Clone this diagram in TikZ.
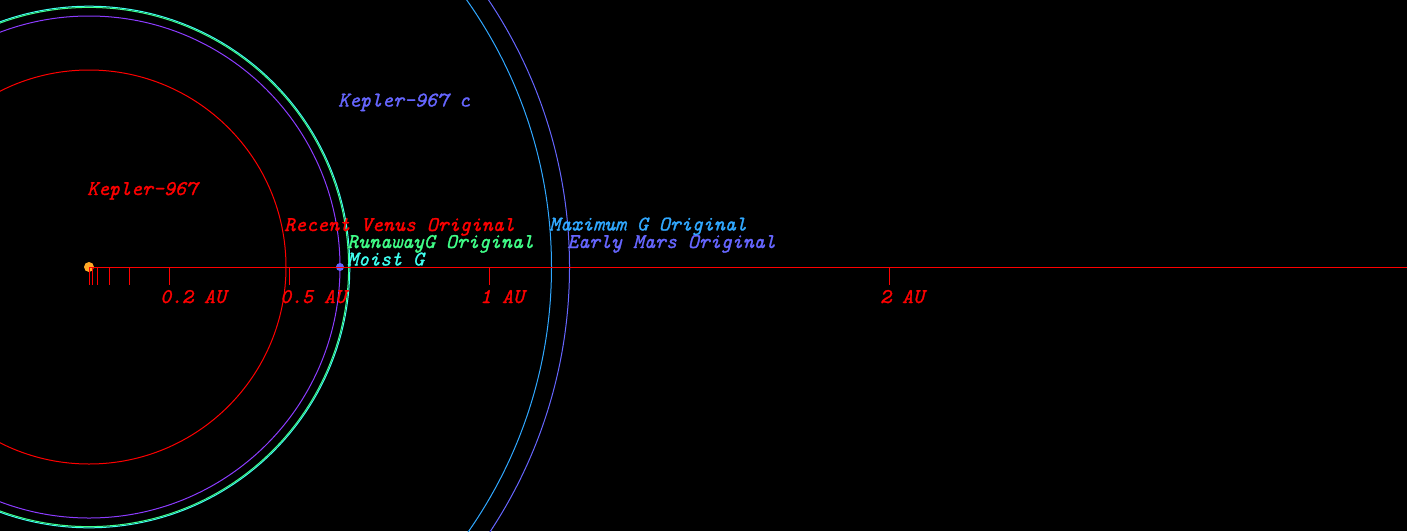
\documentclass[tikz,border=0pt]{standalone}
\usepackage{fontspec}
\newfontfamily\lblfont{lmmono10-italic.otf}[FakeBold=1.2]
\usetikzlibrary{positioning}
\definecolor{venusred}{HTML}{FF0000}
\definecolor{runawaygreen}{HTML}{40FF88}
\definecolor{moistcyan}{HTML}{40FFF0}
\definecolor{maxgblue}{HTML}{30A8FF}
\definecolor{marsblue}{HTML}{6666FF}
\definecolor{orbitviolet}{HTML}{8C3CFF}
\definecolor{starorange}{HTML}{FFA826}
\tikzset{
  orbit/.style={line width=1pt},
  hzline/.style={line width=1pt},
  axtick/.style={draw=venusred, line width=1pt},
  lbl/.style={anchor=base west, inner sep=0pt, font=\lblfont\fontsize{20.9}{22}\selectfont},
  body/.style={circle, inner sep=0pt, draw=none}
}

\begin{document}
\begin{tikzpicture}[x=1pt, y=-1pt]
    
    % Background
    \fill[black] (0,0) rectangle (1407,531);
    \useasboundingbox (0,0) rectangle (1407,531);
    \clip (0,0) rectangle (1407,531);
    
    % Habitable zone limits
    \draw[orbit, venusred] (89,267) circle[radius=197];
    \draw[orbit, runawaygreen] (89,267) circle[radius=259.6];
    \draw[orbit, moistcyan] (89,267) circle[radius=260.8];
    \draw[orbit, maxgblue] (89,267) circle[radius=462.5];
    \draw[orbit, marsblue] (89,267) circle[radius=480.5];
    
    % Planet orbit
    \draw[orbit, orbitviolet] (89,267) circle[radius=251];
    
    % Star and planet
    \node[body, fill=starorange, minimum size=10pt] (star) at (89,267) {};
    \node[body, fill=marsblue, minimum size=8pt] (planet) at (340,267) {};
    
    % Axis
    \coordinate (axisend) at (1407,267);
    \draw[hzline, venusred] (star.center) -- (axisend);
    \foreach \au in {0, 0.01, 0.02, 0.05, 0.1, 0.2, 0.5, 1, 2}
      \draw[axtick] (89+400*\au,267) -- (89+400*\au,285);
    \foreach \au/\txt [count=\i] in {0.2/0.2 AU, 0.5/0.5 AU, 1/1 AU, 2/2 AU}
      \node[lbl, text=venusred] (au\i) at (80+400*\au,303) {\txt};
    
    % Labels
    \node[lbl, text=venusred] (starlbl) at (87,195) {Kepler-967};
    \node[lbl, text=marsblue] (planetlbl) at (338,106.5) {Kepler-967 c};
    \node[lbl, text=venusred] (venuslbl) at (284,231) {Recent Venus Original};
    \node[lbl, text=runawaygreen] (runawaylbl) at (347,248) {RunawayG Original};
    \node[lbl, text=moistcyan] (moistlbl) at (347,265.5) {Moist G};
    \node[lbl, text=maxgblue] (maxglbl) at (549,230.5) {Maximum G Original};
    \node[lbl, text=marsblue] (marslbl) at (567,248) {Early Mars Original};
    
\end{tikzpicture}
\end{document}
